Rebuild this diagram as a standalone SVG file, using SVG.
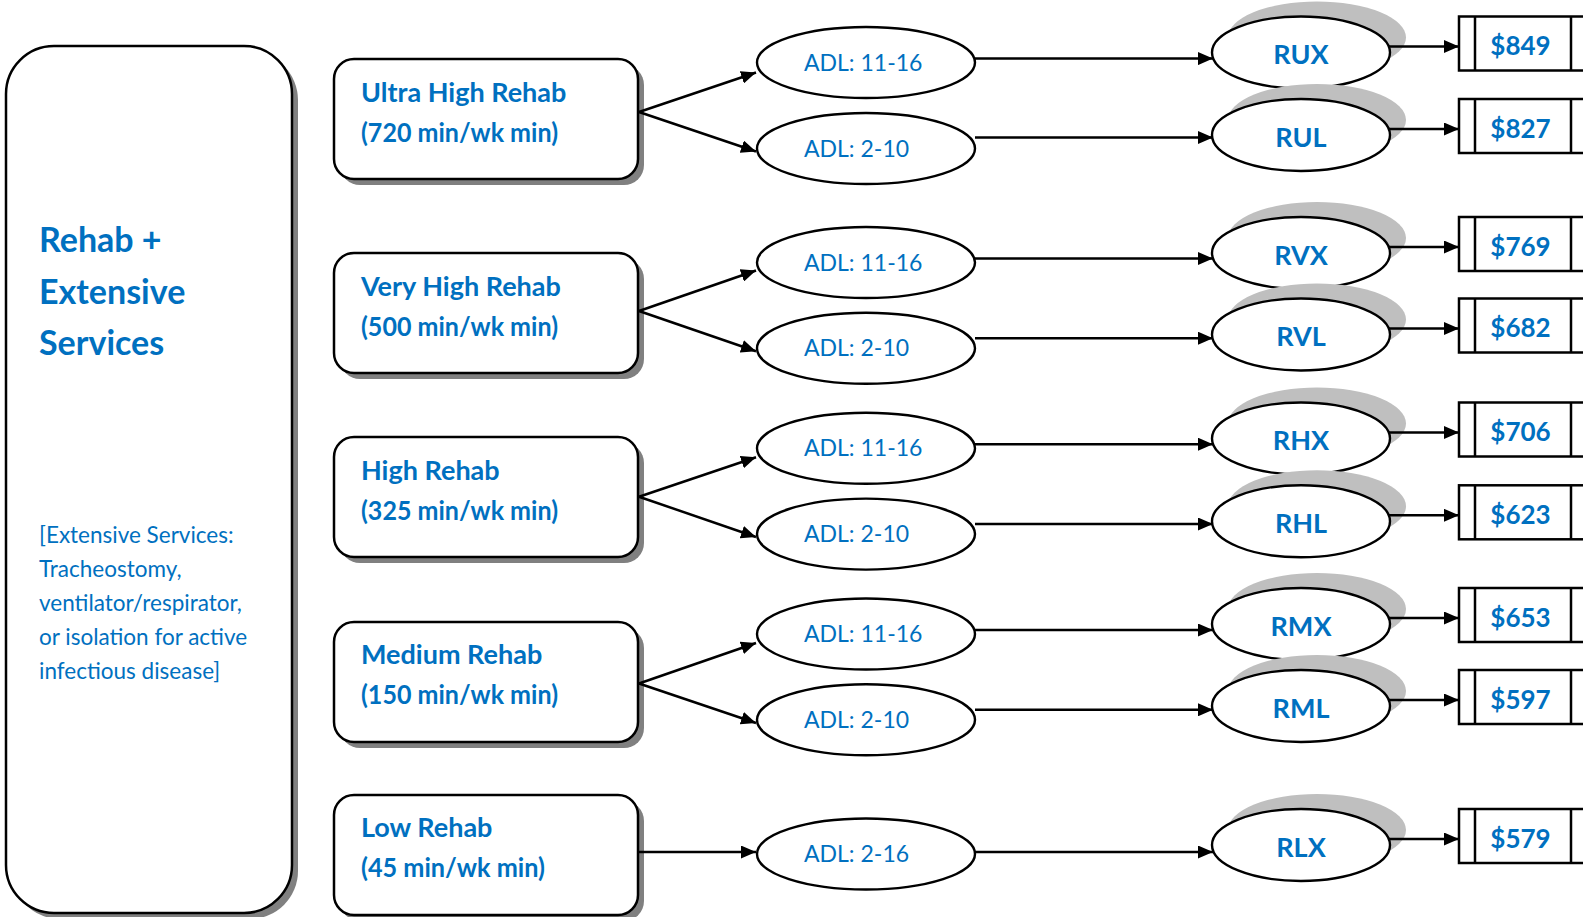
<svg xmlns="http://www.w3.org/2000/svg" width="1583" height="917" viewBox="0 0 1583 917">
  <style>
    .card { fill: #ffffff; stroke: #000000; stroke-width: 2.5; }
    .drop { fill: #808080; }
    .halo { fill: #bfbfbf; }
    .oval { fill: #ffffff; stroke: #000000; stroke-width: 2.4; }
    .price { fill: #ffffff; stroke: #000000; stroke-width: 2.5; }
    .bar { stroke: #000000; stroke-width: 2.5; }
    .conn path { fill: none; stroke: #000000; stroke-width: 2.5; marker-end: url(#arrow); }
    text { font-family: Lato, "Liberation Sans", sans-serif; fill: #0070c0; }
    .title { font-size: 34px; font-weight: bold; }
    .note { font-size: 22.5px; }
    .level { font-size: 27px; font-weight: bold; }
    .adl { font-size: 23px; }
    .code { font-size: 27px; font-weight: bold; text-anchor: middle; }
    .rate { font-size: 26px; font-weight: bold; text-anchor: middle; }
  </style>
  <defs>
    <marker id="arrow" viewBox="0 0 15 13" markerWidth="15" markerHeight="13" refX="15" refY="6.5" orient="auto" markerUnits="userSpaceOnUse">
      <path d="M0,0 L15,6.5 L0,13 z" fill="#000000"/>
    </marker>
  </defs>

  <!-- category panel -->
  <g id="category">
    <rect class="drop" x="12" y="52" width="286" height="867" rx="48"/>
    <rect class="card" x="6" y="46" width="286" height="867" rx="48"/>
    <text class="title" x="39" y="252">Rehab +</text>
    <text class="title" x="39" y="304">Extensive</text>
    <text class="title" x="39" y="355">Services</text>
    <text class="note" x="39" y="543">[Extensive Services:</text>
    <text class="note" x="39" y="577">Tracheostomy,</text>
    <text class="note" x="39" y="611">ventilator/respirator,</text>
    <text class="note" x="39" y="645">or isolation for active</text>
    <text class="note" x="39" y="679">infectious disease]</text>
  </g>

  <!-- therapy levels -->
  <g id="ultra-high">
    <rect class="drop" x="340" y="65" width="304" height="120" rx="20"/>
    <rect class="card" x="334" y="59" width="304" height="120" rx="20"/>
    <text class="level" x="361" y="102">Ultra High Rehab</text>
    <text class="level" x="361" y="142" textLength="197" lengthAdjust="spacingAndGlyphs">(720 min/wk min)</text>
  </g>
  <g id="very-high">
    <rect class="drop" x="340" y="259" width="304" height="120" rx="20"/>
    <rect class="card" x="334" y="253" width="304" height="120" rx="20"/>
    <text class="level" x="361" y="296">Very High Rehab</text>
    <text class="level" x="361" y="336" textLength="197" lengthAdjust="spacingAndGlyphs">(500 min/wk min)</text>
  </g>
  <g id="high">
    <rect class="drop" x="340" y="443" width="304" height="120" rx="20"/>
    <rect class="card" x="334" y="437" width="304" height="120" rx="20"/>
    <text class="level" x="361" y="480">High Rehab</text>
    <text class="level" x="361" y="520" textLength="197" lengthAdjust="spacingAndGlyphs">(325 min/wk min)</text>
  </g>
  <g id="medium">
    <rect class="drop" x="340" y="628" width="304" height="120" rx="20"/>
    <rect class="card" x="334" y="622" width="304" height="120" rx="20"/>
    <text class="level" x="361" y="664">Medium Rehab</text>
    <text class="level" x="361" y="704" textLength="197" lengthAdjust="spacingAndGlyphs">(150 min/wk min)</text>
  </g>
  <g id="low">
    <rect class="drop" x="340" y="801" width="304" height="120" rx="20"/>
    <rect class="card" x="334" y="795" width="304" height="120" rx="20"/>
    <text class="level" x="361" y="837">Low Rehab</text>
    <text class="level" x="361" y="877" textLength="184" lengthAdjust="spacingAndGlyphs">(45 min/wk min)</text>
  </g>

  <!-- ADL score bands -->
  <g id="adl-ux"><ellipse class="oval" cx="866" cy="62.5" rx="109" ry="35.5"/><text class="adl" x="804" y="70.5">ADL: 11-16</text></g>
  <g id="adl-ul"><ellipse class="oval" cx="866" cy="148.5" rx="109" ry="35.5"/><text class="adl" x="804" y="156.5">ADL: 2-10</text></g>
  <g id="adl-vx"><ellipse class="oval" cx="866" cy="262.5" rx="109" ry="35.5"/><text class="adl" x="804" y="270.5">ADL: 11-16</text></g>
  <g id="adl-vl"><ellipse class="oval" cx="866" cy="348.3" rx="109" ry="35.5"/><text class="adl" x="804" y="356.3">ADL: 2-10</text></g>
  <g id="adl-hx"><ellipse class="oval" cx="866" cy="448.3" rx="109" ry="35.5"/><text class="adl" x="804" y="456.3">ADL: 11-16</text></g>
  <g id="adl-hl"><ellipse class="oval" cx="866" cy="534.1" rx="109" ry="35.5"/><text class="adl" x="804" y="542.1">ADL: 2-10</text></g>
  <g id="adl-mx"><ellipse class="oval" cx="866" cy="634" rx="109" ry="35.5"/><text class="adl" x="804" y="642">ADL: 11-16</text></g>
  <g id="adl-ml"><ellipse class="oval" cx="866" cy="719.8" rx="109" ry="35.5"/><text class="adl" x="804" y="727.8">ADL: 2-10</text></g>
  <g id="adl-lx"><ellipse class="oval" cx="866" cy="854" rx="109" ry="35.5"/><text class="adl" x="804" y="862">ADL: 2-16</text></g>

  <!-- RUG groups -->
  <g id="rux"><ellipse class="halo" cx="1317" cy="37.5" rx="89" ry="36"/><ellipse class="oval" cx="1301" cy="52.5" rx="89" ry="36"/><text class="code" x="1301" y="64">RUX</text></g>
  <g id="rul"><ellipse class="halo" cx="1317" cy="120" rx="89" ry="36"/><ellipse class="oval" cx="1301" cy="135" rx="89" ry="36"/><text class="code" x="1301" y="146.5">RUL</text></g>
  <g id="rvx"><ellipse class="halo" cx="1317" cy="238" rx="89" ry="36"/><ellipse class="oval" cx="1301" cy="253" rx="89" ry="36"/><text class="code" x="1301" y="264.5">RVX</text></g>
  <g id="rvl"><ellipse class="halo" cx="1317" cy="319.5" rx="89" ry="36"/><ellipse class="oval" cx="1301" cy="334.5" rx="89" ry="36"/><text class="code" x="1301" y="346">RVL</text></g>
  <g id="rhx"><ellipse class="halo" cx="1317" cy="423.5" rx="89" ry="36"/><ellipse class="oval" cx="1301" cy="438.5" rx="89" ry="36"/><text class="code" x="1301" y="450">RHX</text></g>
  <g id="rhl"><ellipse class="halo" cx="1317" cy="506.3" rx="89" ry="36"/><ellipse class="oval" cx="1301" cy="521.3" rx="89" ry="36"/><text class="code" x="1301" y="532.8">RHL</text></g>
  <g id="rmx"><ellipse class="halo" cx="1317" cy="609" rx="89" ry="36"/><ellipse class="oval" cx="1301" cy="624" rx="89" ry="36"/><text class="code" x="1301" y="635.5">RMX</text></g>
  <g id="rml"><ellipse class="halo" cx="1317" cy="691" rx="89" ry="36"/><ellipse class="oval" cx="1301" cy="706" rx="89" ry="36"/><text class="code" x="1301" y="717.5">RML</text></g>
  <g id="rlx"><ellipse class="halo" cx="1317" cy="830" rx="89" ry="36"/><ellipse class="oval" cx="1301" cy="845" rx="89" ry="36"/><text class="code" x="1301" y="856.5">RLX</text></g>

  <!-- daily rates -->
  <g id="rate-rux"><rect class="price" x="1459" y="16.5" width="132" height="54"/><line class="bar" x1="1475" y1="16.5" x2="1475" y2="70.5"/><line class="bar" x1="1571" y1="16.5" x2="1571" y2="70.5"/><text class="rate" x="1520.5" y="55">$849</text></g>
  <g id="rate-rul"><rect class="price" x="1459" y="99" width="132" height="54"/><line class="bar" x1="1475" y1="99" x2="1475" y2="153"/><line class="bar" x1="1571" y1="99" x2="1571" y2="153"/><text class="rate" x="1520.5" y="137.5">$827</text></g>
  <g id="rate-rvx"><rect class="price" x="1459" y="217" width="132" height="54"/><line class="bar" x1="1475" y1="217" x2="1475" y2="271"/><line class="bar" x1="1571" y1="217" x2="1571" y2="271"/><text class="rate" x="1520.5" y="255.5">$769</text></g>
  <g id="rate-rvl"><rect class="price" x="1459" y="298.5" width="132" height="54"/><line class="bar" x1="1475" y1="298.5" x2="1475" y2="352.5"/><line class="bar" x1="1571" y1="298.5" x2="1571" y2="352.5"/><text class="rate" x="1520.5" y="337">$682</text></g>
  <g id="rate-rhx"><rect class="price" x="1459" y="402.5" width="132" height="54"/><line class="bar" x1="1475" y1="402.5" x2="1475" y2="456.5"/><line class="bar" x1="1571" y1="402.5" x2="1571" y2="456.5"/><text class="rate" x="1520.5" y="441">$706</text></g>
  <g id="rate-rhl"><rect class="price" x="1459" y="485.3" width="132" height="54"/><line class="bar" x1="1475" y1="485.3" x2="1475" y2="539.3"/><line class="bar" x1="1571" y1="485.3" x2="1571" y2="539.3"/><text class="rate" x="1520.5" y="523.8">$623</text></g>
  <g id="rate-rmx"><rect class="price" x="1459" y="588" width="132" height="54"/><line class="bar" x1="1475" y1="588" x2="1475" y2="642"/><line class="bar" x1="1571" y1="588" x2="1571" y2="642"/><text class="rate" x="1520.5" y="626.5">$653</text></g>
  <g id="rate-rml"><rect class="price" x="1459" y="670" width="132" height="54"/><line class="bar" x1="1475" y1="670" x2="1475" y2="724"/><line class="bar" x1="1571" y1="670" x2="1571" y2="724"/><text class="rate" x="1520.5" y="708.5">$597</text></g>
  <g id="rate-rlx"><rect class="price" x="1459" y="809" width="132" height="54"/><line class="bar" x1="1475" y1="809" x2="1475" y2="863"/><line class="bar" x1="1571" y1="809" x2="1571" y2="863"/><text class="rate" x="1520.5" y="847.5">$579</text></g>

  <!-- connectors -->
  <g id="connectors" class="conn">
    <path d="M639,112 L756,72.5"/>
    <path d="M639,112 L756,151.5"/>
    <path d="M639,311 L756,270.5"/>
    <path d="M639,311 L756,351.3"/>
    <path d="M639,496.7 L756,457.3"/>
    <path d="M639,496.7 L756,537"/>
    <path d="M639,683.5 L756,643"/>
    <path d="M639,683.5 L756,723"/>
    <path d="M639,852 L756,852"/>

    <path d="M975,58.6 L1213,58.6"/>
    <path d="M975,137.5 L1213,137.5"/>
    <path d="M975,258.5 L1213,258.5"/>
    <path d="M975,338.2 L1213,338.2"/>
    <path d="M975,444.2 L1213,444.2"/>
    <path d="M975,524 L1213,524"/>
    <path d="M975,630 L1213,630"/>
    <path d="M975,709.8 L1213,709.8"/>
    <path d="M975,852 L1213,852"/>

    <path d="M1389,46.5 L1459,46.5"/>
    <path d="M1389,129 L1459,129"/>
    <path d="M1389,247 L1459,247"/>
    <path d="M1389,328.5 L1459,328.5"/>
    <path d="M1389,432.5 L1459,432.5"/>
    <path d="M1389,515.3 L1459,515.3"/>
    <path d="M1389,618 L1459,618"/>
    <path d="M1389,700 L1459,700"/>
    <path d="M1389,839 L1459,839"/>
  </g>
</svg>
